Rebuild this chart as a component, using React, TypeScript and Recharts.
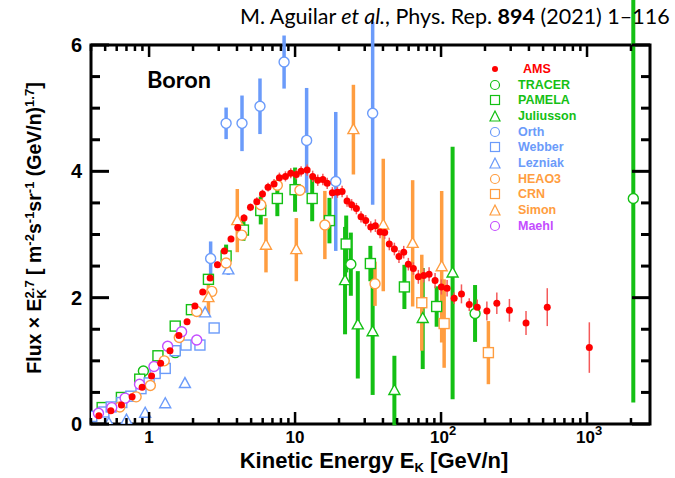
import React from 'react';
import { ComposedChart, Scatter, XAxis, YAxis, ErrorBar, ReferenceArea } from 'recharts';

// Boron flux x Ek^2.7, AMS and earlier measurements

const amsEnergy = [0.453, 0.547, 0.646, 0.765, 0.896, 1.04, 1.2, 1.39, 1.6, 1.82, 2.06, 2.33, 2.62, 2.94, 3.28, 3.64, 4.05, 4.47, 4.95, 5.47, 5.98, 6.53, 7.18, 7.81, 8.59, 9.34, 10.2, 11.0, 12.1, 13.2, 14.3, 15.5, 16.6, 18.0, 19.5, 21.0, 22.7, 24.4, 26.3, 28.3, 30.5, 33.0, 35.5, 38.2, 41.1, 44.2, 47.9, 51.5, 55.5, 59.7, 64.6, 69.9, 76.1, 82.8, 91.0, 100.5, 110, 123, 138, 156, 177, 206, 241, 294, 382, 534, 1037];
const amsFlux = [0.13, 0.21, 0.3, 0.43, 0.58, 0.76, 0.96, 1.16, 1.4, 1.62, 1.87, 2.09, 2.31, 2.52, 2.74, 2.93, 3.11, 3.26, 3.43, 3.52, 3.64, 3.75, 3.8, 3.9, 3.92, 3.97, 3.95, 4.0, 4.02, 3.92, 3.86, 3.87, 3.81, 3.66, 3.67, 3.68, 3.53, 3.47, 3.41, 3.28, 3.22, 3.12, 3.14, 3.04, 3.03, 2.85, 2.77, 2.65, 2.72, 2.53, 2.46, 2.33, 2.35, 2.37, 2.27, 2.17, 2.15, 1.99, 2.06, 1.89, 1.85, 1.79, 1.91, 1.8, 1.6, 1.85, 1.21];
const amsErr = [0.03, 0.03, 0.03, 0.03, 0.03, 0.03, 0.03, 0.03, 0.03, 0.03, 0.04, 0.04, 0.04, 0.05, 0.05, 0.05, 0.06, 0.06, 0.06, 0.07, 0.07, 0.07, 0.08, 0.08, 0.08, 0.08, 0.08, 0.08, 0.09, 0.09, 0.09, 0.09, 0.09, 0.09, 0.09, 0.09, 0.09, 0.09, 0.09, 0.09, 0.09, 0.09, 0.1, 0.1, 0.1, 0.1, 0.1, 0.1, 0.1, 0.1, 0.1, 0.11, 0.11, 0.11, 0.12, 0.12, 0.13, 0.09, 0.15, 0.1, 0.12, 0.15, 0.17, 0.18, 0.19, 0.3, 0.4];

const tracerEnergy = [0.914, 1.51, 24.1, 171, 2075];
const tracerFlux = [0.84, 1.13, 2.53, 1.75, 3.57];
const tracerErr = [0, 0, 0.5, 0.45, 3.23];

const pamelaEnergy = [0.477, 0.646, 0.863, 1.15, 1.51, 1.95, 2.55, 3.37, 4.43, 5.82, 7.56, 10.0, 13.1, 17.2, 22.4, 32.8, 56.1, 93.3];
const pamelaFlux = [0.26, 0.42, 0.71, 1.08, 1.55, 1.81, 2.29, 2.66, 3.07, 3.38, 3.57, 3.71, 3.57, 3.22, 2.85, 2.54, 2.17, 1.86];
const pamelaErr = [0.03, 0.03, 0.04, 0.04, 0.05, 0.05, 0.06, 0.18, 0.17, 0.22, 0.28, 0.35, 0.36, 0.36, 0.45, 0.28, 0.35, 0.32];

const juliussonEnergy = [22.0, 26.9, 34.0, 47.9, 74.9, 120];
const juliussonFlux = [2.27, 1.57, 1.46, 0.53, 1.67, 2.39];
const juliussonErr = [0.85, 0.85, 1.0, 0.55, 0.8, 2.0];

const orthEnergy = [2.64, 3.37, 4.33, 5.75, 8.41, 12.0, 19.0, 34.0];
const orthFlux = [2.62, 4.76, 4.76, 5.03, 5.73, 4.49, 3.84, 4.92];
const orthErr = [0.27, 0.25, 0.44, 0.44, 0.42, 0.83, 1.1, 1.45];

const webberEnergy = [0.405, 0.49, 0.55, 0.65, 0.75, 0.88, 1.0, 1.1, 1.29, 1.51, 1.79, 2.23, 2.79];
const webberFlux = [0.12, 0.19, 0.27, 0.34, 0.44, 0.56, 0.65, 0.8, 0.88, 1.16, 1.25, 1.25, 1.52];

const lezniakEnergy = [0.53, 0.7, 0.94, 1.29, 1.76, 2.42, 3.49];
const lezniakFlux = [0.01, 0.06, 0.17, 0.32, 0.64, 1.76, 2.44];
const lezniakErr = [0, 0, 0, 0, 0, 0.05, 0.08];

const heao3Energy = [0.63, 0.815, 1.02, 1.27, 1.61, 2.12, 2.69, 3.37, 4.31, 5.82, 7.56, 10.8, 16.0, 35.3];
const heao3Flux = [0.27, 0.43, 0.61, 1.0, 1.37, 1.78, 2.1, 2.55, 2.99, 3.47, 3.78, 3.7, 3.15, 2.22];
const heao3Err = [0, 0, 0, 0, 0, 0, 0, 0, 0, 0, 0, 0, 0.54, 0.35];

const crnEnergy = [73.8, 105, 211];
const crnFlux = [1.92, 1.59, 1.13];
const crnErr = [0.76, 0.7, 0.5];

const simonEnergy = [2.55, 4.02, 6.32, 10.2, 25.1, 40.2, 63.9, 101];
const simonFlux = [2.0, 3.22, 2.83, 2.76, 4.66, 3.15, 2.86, 2.49];
const simonErr = [0.3, 0.5, 0.43, 0.5, 0.71, 1.05, 1.0, 1.2];

const maehlEnergy = [0.45, 0.555, 0.685, 0.86, 1.08, 1.34, 1.67, 2.12];
const maehlFlux = [0.17, 0.26, 0.41, 0.63, 0.91, 1.23, 1.46, 1.33];

const xTicks = [0.4, 0.5, 0.6, 0.7, 0.8, 0.9, 1, 2, 3, 4, 5, 6, 7, 8, 9, 10, 20, 30, 40, 50, 60, 70, 80, 90, 100, 200, 300, 400, 500, 600, 700, 800, 900, 1000, 2000];
const xDecades = [1, 10, 100, 1000];
const yTicks = [0, 0.5, 1, 1.5, 2, 2.5, 3, 3.5, 4, 4.5, 5, 5.5, 6];
const yLabelled = [0, 2, 4, 6];

const GREEN = '#14c014';
const BLUE = '#6b9bfa';
const ORANGE = '#ff9d40';
const PURPLE = '#c44dff';
const RED = '#ff0000';

const LEFT = 91;
const RIGHT = 650;
const TOP = 45;
const BOTTOM = 424;
const AXIS_FONT = '"Liberation Sans", Arial, sans-serif';

const points = (xs: number[], ys: number[], es?: number[]) =>
  xs.map((x, i) => ({ x, y: ys[i], err: es ? es[i] : 0 }));

const OpenCircle = ({ cx, cy, color }: any) => (
  <circle cx={cx} cy={cy} r={5} fill="#fff" stroke={color} strokeWidth={1.4} />
);
const OpenSquare = ({ cx, cy, color }: any) => (
  <rect x={cx - 5} y={cy - 5} width={10} height={10} fill="#fff" stroke={color} strokeWidth={1.4} />
);
const OpenTriangle = ({ cx, cy, color }: any) => (
  <polygon
    points={`${cx},${cy - 6} ${cx - 5.5},${cy + 4} ${cx + 5.5},${cy + 4}`}
    fill="#fff"
    stroke={color}
    strokeWidth={1.4}
  />
);
const Dot = ({ cx, cy }: any) => <circle cx={cx} cy={cy} r={3.5} fill={RED} />;

const shapeFor = (kind: string, color: string) => (props: any) => {
  if (kind === 'circle') return <OpenCircle {...props} color={color} />;
  if (kind === 'square') return <OpenSquare {...props} color={color} />;
  return <OpenTriangle {...props} color={color} />;
};

// ticks point inwards on both the bottom and the top edge of the frame
const renderXTick = ({ x, y, payload }: any) => {
  const v = payload.value;
  const major = xDecades.includes(v);
  const len = major ? 12 : 6;
  let label: React.ReactNode = null;
  if (v === 1 || v === 10) {
    label = (
      <text x={x} y={443} textAnchor="middle" fontSize={17} fontWeight="bold" fontFamily={AXIS_FONT}>
        {String(v)}
      </text>
    );
  } else if (major) {
    label = (
      <text x={x - 11} y={443} fontSize={17} fontWeight="bold" fontFamily={AXIS_FONT}>
        10<tspan dy={-8} fontSize={13}>{v === 100 ? '2' : '3'}</tspan>
      </text>
    );
  }
  return (
    <g key={`xt-${v}`}>
      <line x1={x} x2={x} y1={y} y2={y - len} stroke="#000" strokeWidth={2.5} />
      <line x1={x} x2={x} y1={TOP} y2={TOP + len} stroke="#000" strokeWidth={2.5} />
      {label}
    </g>
  );
};

// same for the left and right edges
const renderYTick = ({ x, y, payload }: any) => {
  const v = payload.value;
  const major = yLabelled.includes(v);
  const len = major ? 18 : 9;
  return (
    <g key={`yt-${v}`}>
      <line x1={x} x2={x + len} y1={y} y2={y} stroke="#000" strokeWidth={3} />
      <line x1={RIGHT} x2={RIGHT - len} y1={y} y2={y} stroke="#000" strokeWidth={3} />
      {major && (
        <text x={82} y={y + 7} textAnchor="end" fontSize={20} fontWeight="bold" fontFamily={AXIS_FONT}>
          {String(v)}
        </text>
      )}
    </g>
  );
};

const legendRows = [
  { name: 'AMS', kind: 'dot', color: RED },
  { name: 'TRACER', kind: 'circle', color: GREEN },
  { name: 'PAMELA', kind: 'square', color: GREEN },
  { name: 'Juliusson', kind: 'triangle', color: GREEN },
  { name: 'Orth', kind: 'circle', color: BLUE },
  { name: 'Webber', kind: 'square', color: BLUE },
  { name: 'Lezniak', kind: 'triangle', color: BLUE },
  { name: 'HEAO3', kind: 'circle', color: ORANGE },
  { name: 'CRN', kind: 'square', color: ORANGE },
  { name: 'Simon', kind: 'triangle', color: ORANGE },
  { name: 'Maehl', kind: 'circle', color: PURPLE },
];

const LegendIcon = ({ kind, color }: { kind: string; color: string }) => {
  const c = 7;
  return (
    <svg width={14} height={14} style={{ display: 'block' }}>
      {kind === 'dot' && <circle cx={c} cy={c} r={3} fill={color} />}
      {kind === 'circle' && <circle cx={c} cy={c} r={4.5} fill="none" stroke={color} strokeWidth={1.2} />}
      {kind === 'square' && <rect x={2.5} y={2.5} width={9} height={9} fill="none" stroke={color} strokeWidth={1.2} />}
      {kind === 'triangle' && (
        <polygon points={`${c},2 2,12 12,12`} fill="none" stroke={color} strokeWidth={1.2} />
      )}
    </svg>
  );
};

const series = [
  { key: 'tracer', data: points(tracerEnergy, tracerFlux, tracerErr), kind: 'circle', color: GREEN, bar: 4 },
  { key: 'pamela', data: points(pamelaEnergy, pamelaFlux, pamelaErr), kind: 'square', color: GREEN, bar: 4 },
  { key: 'juliusson', data: points(juliussonEnergy, juliussonFlux, juliussonErr), kind: 'triangle', color: GREEN, bar: 4 },
  { key: 'orth', data: points(orthEnergy, orthFlux, orthErr), kind: 'circle', color: BLUE, bar: 3.5 },
  { key: 'webber', data: points(webberEnergy, webberFlux), kind: 'square', color: BLUE, bar: 0 },
  { key: 'lezniak', data: points(lezniakEnergy, lezniakFlux, lezniakErr), kind: 'triangle', color: BLUE, bar: 3.5 },
  { key: 'heao3', data: points(heao3Energy, heao3Flux, heao3Err), kind: 'circle', color: ORANGE, bar: 3.5 },
  { key: 'crn', data: points(crnEnergy, crnFlux, crnErr), kind: 'square', color: ORANGE, bar: 3.5 },
  { key: 'simon', data: points(simonEnergy, simonFlux, simonErr), kind: 'triangle', color: ORANGE, bar: 3.5 },
  { key: 'maehl', data: points(maehlEnergy, maehlFlux), kind: 'circle', color: PURPLE, bar: 0 },
];

const amsData = points(amsEnergy, amsFlux, amsErr);

const SUP = { fontSize: 13 };

export default function App() {
  return (
    <div style={{ position: 'absolute', left: 0, top: 0, width: 675, height: 478, background: '#fff', overflow: 'hidden' }}>
      <ComposedChart
        width={675}
        height={478}
        margin={{ top: TOP, right: 675 - RIGHT, bottom: 478 - BOTTOM - 30, left: LEFT - 30 }}
      >
        <XAxis
          dataKey="x"
          type="number"
          scale="log"
          domain={[0.4, 2700]}
          allowDataOverflow
          ticks={xTicks}
          interval={0}
          height={30}
          tickSize={0}
          tickMargin={0}
          axisLine={false}
          tickLine={false}
          tick={renderXTick}
        />
        <YAxis
          dataKey="y"
          type="number"
          domain={[0, 6]}
          allowDataOverflow
          ticks={yTicks}
          interval={0}
          width={30}
          tickSize={0}
          tickMargin={0}
          axisLine={false}
          tickLine={false}
          tick={renderYTick}
        />
        {series.map((s) => (
          <Scatter
            key={s.key}
            name={s.key}
            data={s.data}
            dataKey="y"
            isAnimationActive={false}
            shape={shapeFor(s.kind, s.color)}
          >
            {s.bar > 0 && (
              <ErrorBar dataKey="err" direction="y" width={0} stroke={s.color} strokeWidth={s.bar} />
            )}
          </Scatter>
        ))}
        <Scatter name="ams" data={amsData} dataKey="y" isAnimationActive={false} shape={<Dot />}>
          <ErrorBar dataKey="err" direction="y" width={0} stroke="#f45a5a" strokeWidth={1.5} />
        </Scatter>
        <ReferenceArea x1={0.4} x2={2700} y1={0} y2={6} fill="none" stroke="#000" strokeWidth={3} ifOverflow="visible" />
      </ComposedChart>

      <div
        style={{
          position: 'absolute',
          left: 240,
          top: 3,
          fontFamily: 'Lato, "Open Sans", sans-serif',
          fontSize: 21.5,
          whiteSpace: 'nowrap',
          color: '#000',
        }}
      >
        M. Aguilar <i>et al.</i>, Phys. Rep. <b>894</b> (2021) 1–116
      </div>

      <div
        style={{
          position: 'absolute',
          left: 147,
          top: 65,
          fontFamily: 'Lato, "Open Sans", sans-serif',
          fontWeight: 'bold',
          fontSize: 23.5,
        }}
      >
        Boron
      </div>

      <div style={{ position: 'absolute', left: 488, top: 61, fontFamily: AXIS_FONT, fontWeight: 'bold', fontSize: 12.5 }}>
        {legendRows.map((r) => (
          <div key={r.name} style={{ display: 'flex', alignItems: 'center', height: 15.7 }}>
            <LegendIcon kind={r.kind} color={r.color} />
            <span style={{ color: r.color, marginLeft: r.name === 'AMS' ? 21 : 16 }}>{r.name}</span>
          </div>
        ))}
      </div>

      <div
        style={{
          position: 'absolute',
          left: 374,
          top: 462,
          transform: 'translate(-50%, -50%)',
          fontFamily: AXIS_FONT,
          fontWeight: 'bold',
          fontSize: 22,
          lineHeight: '22px',
          whiteSpace: 'nowrap',
        }}
      >
        Kinetic Energy E
        <span style={{ fontSize: 13, position: 'relative', top: 4 }}>K</span> [GeV/n]
      </div>

      <div
        style={{
          position: 'absolute',
          left: 35,
          top: 228,
          transform: 'translate(-50%, -50%) rotate(-90deg)',
          fontFamily: AXIS_FONT,
          fontWeight: 'bold',
          fontSize: 19.5,
          whiteSpace: 'nowrap',
        }}
      >
        Flux × E
        <span style={{ display: 'inline-flex', flexDirection: 'column', fontSize: 13, lineHeight: '12px', verticalAlign: 'middle' }}>
          <span>2.7</span>
          <span>K</span>
        </span>{' '}
        [ m<sup style={SUP}>-2</sup>s<sup style={SUP}>-1</sup>sr<sup style={SUP}>-1</sup> (GeV/n)
        <sup style={SUP}>1.7</sup>]
      </div>
    </div>
  );
}
